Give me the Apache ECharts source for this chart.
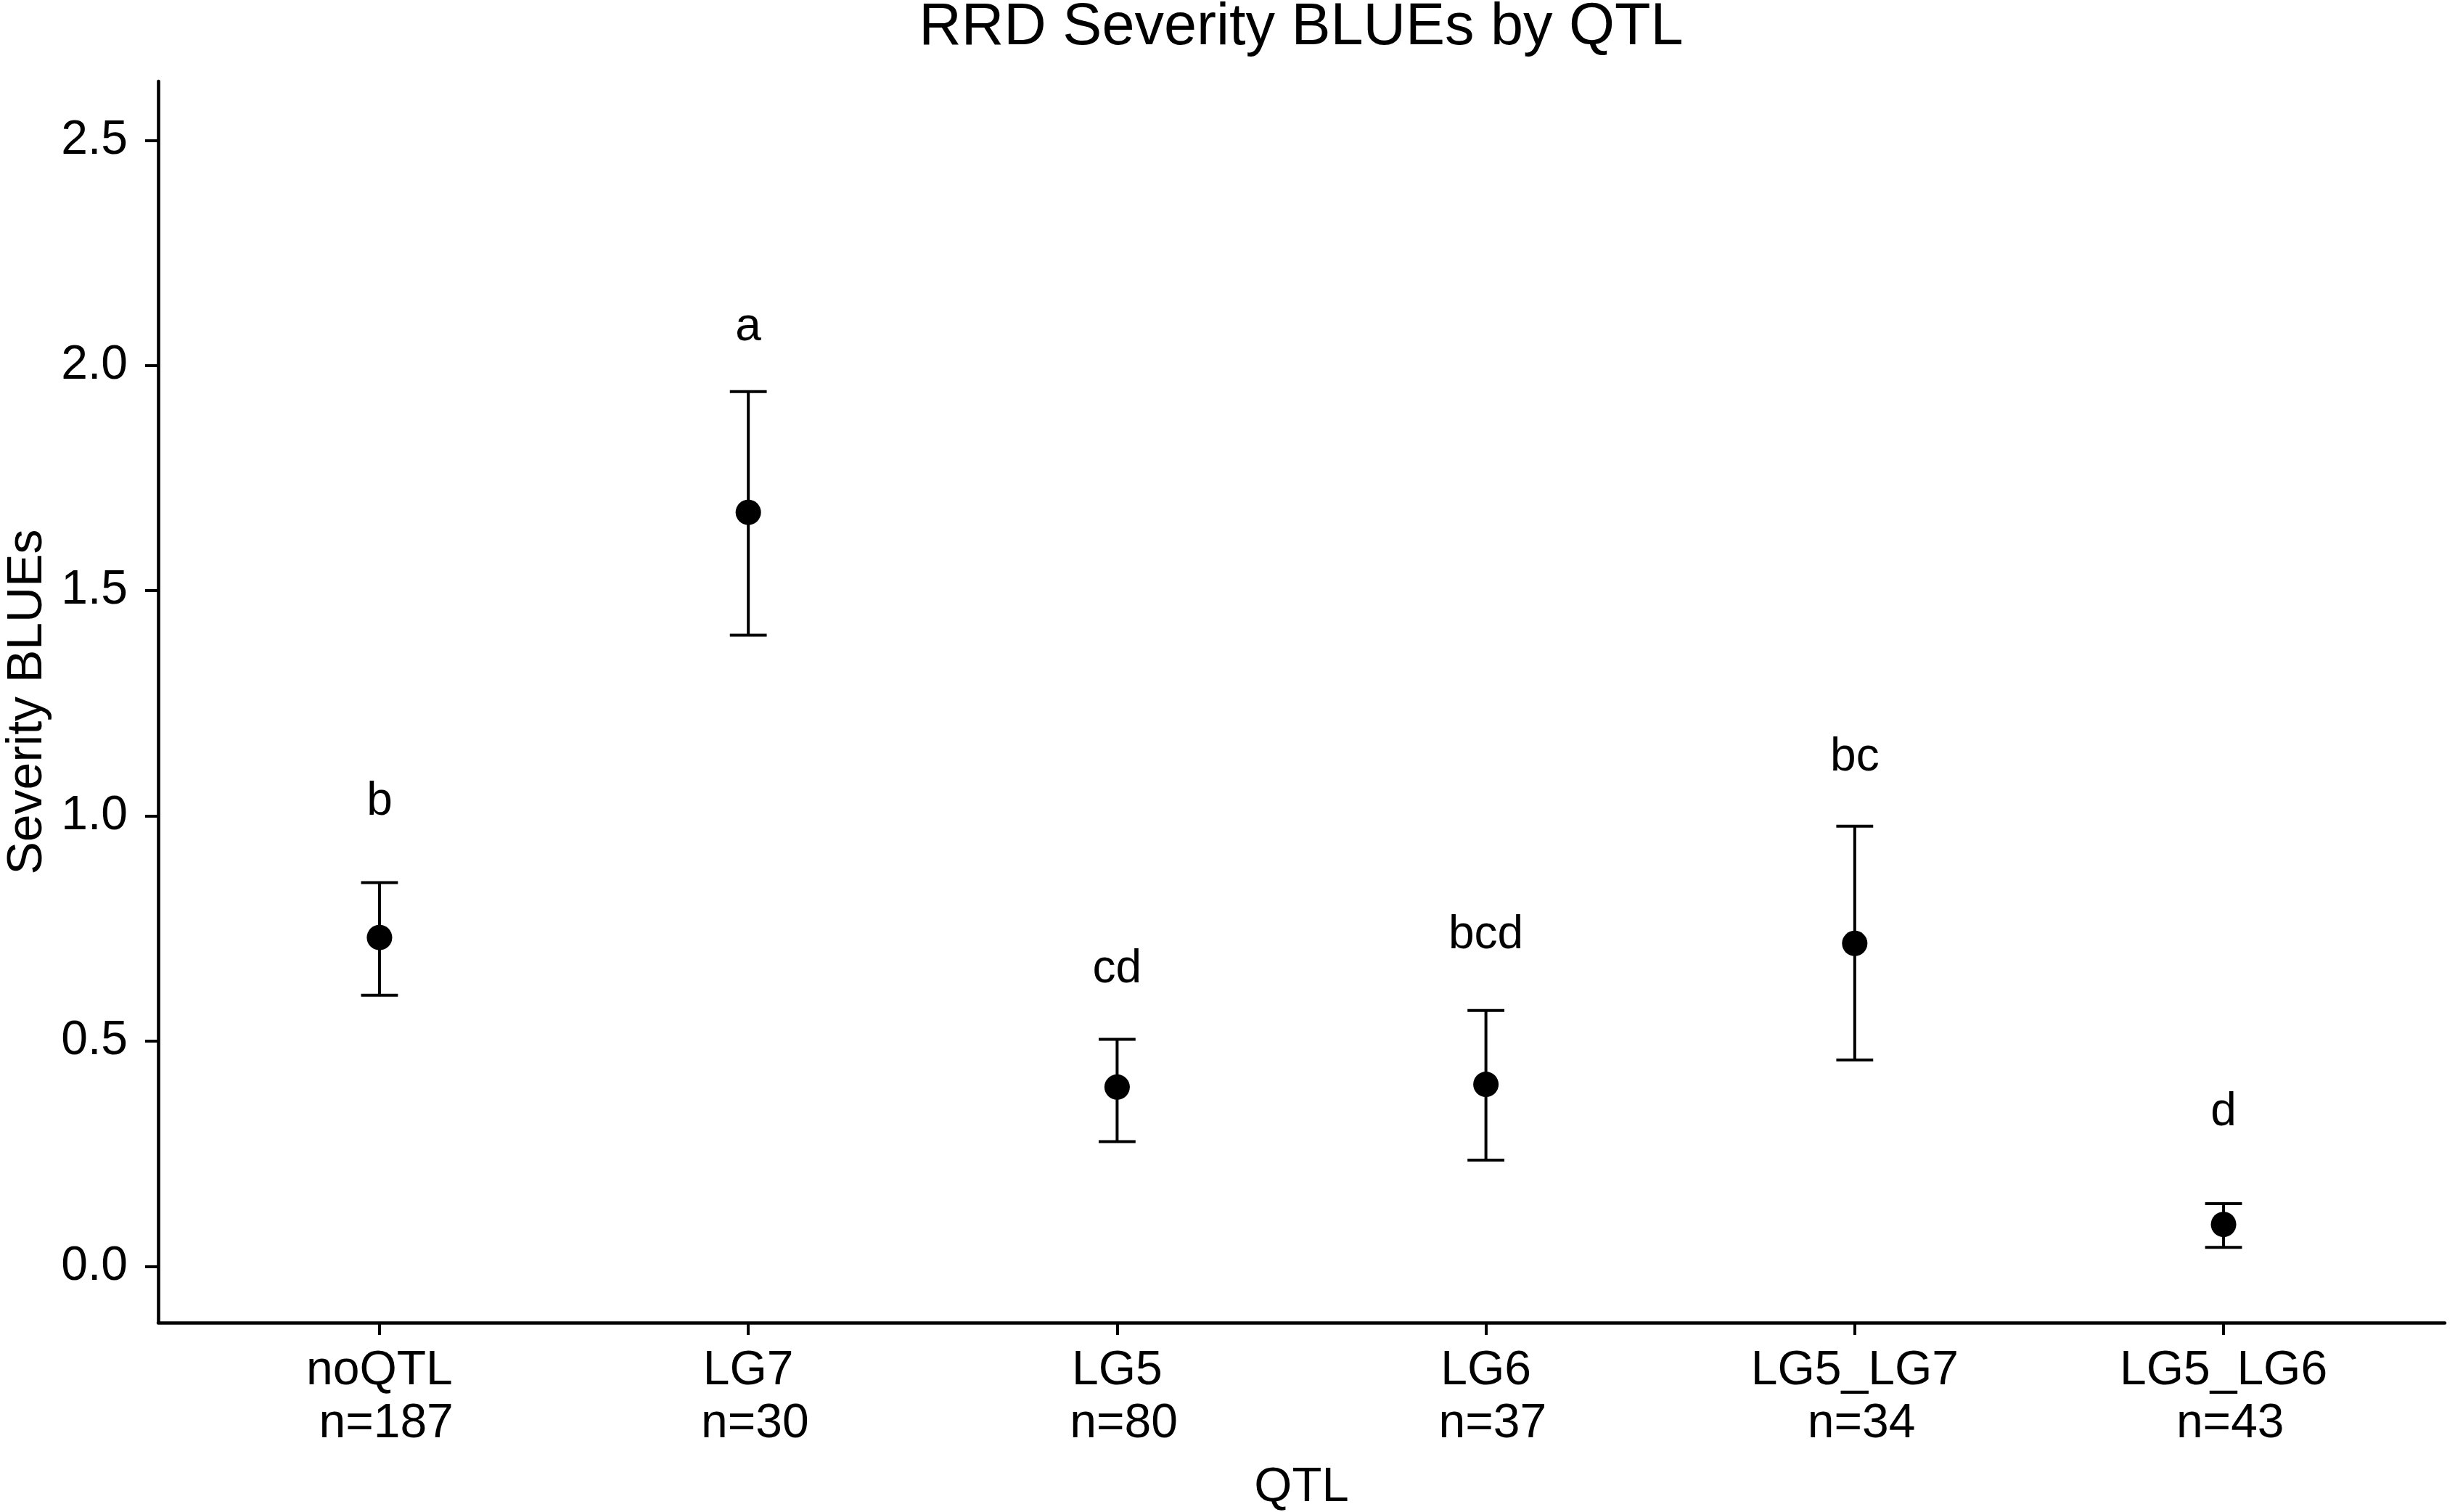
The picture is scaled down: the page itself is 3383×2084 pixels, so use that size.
<!DOCTYPE html>
<html>
<head>
<meta charset="utf-8">
<script src="https://cdn.jsdelivr.net/npm/echarts@6/dist/echarts.min.js"></script>
<style>
  html, body { margin: 0; padding: 0; background: #fff; }
  #chart { width: 3383px; height: 2084px; }
</style>
</head>
<body>
<div id="chart"></div>
<script>
// values
const qtlGroups = ['noQTL', 'LG7', 'LG5', 'LG6', 'LG5_LG7', 'LG5_LG6'];
const groupN = [187, 30, 80, 37, 34, 43];
const blueMean = [0.730, 1.674, 0.398, 0.404, 0.717, 0.093];
const blueLow = [0.602, 1.401, 0.277, 0.236, 0.458, 0.042];
const blueHigh = [0.852, 1.942, 0.504, 0.568, 0.977, 0.139];
const letters = ['b', 'a', 'cd', 'bcd', 'bc', 'd'];
const letterY = [1.031, 2.084, 0.659, 0.735, 1.130, 0.341];
const yTicks = [0, 0.5, 1.0, 1.5, 2.0, 2.5];

const FONT = 'Liberation Sans, Arial, sans-serif';
const capWidth = 0.1; // errorbar width in x units

const chart = echarts.init(document.getElementById('chart'), null, { renderer: 'canvas' });

const xIdx = qtlGroups.map((_, i) => i);

chart.setOption({
  animation: false,
  backgroundColor: '#fff',
  title: {
    text: 'RRD Severity BLUEs by QTL',
    left: 1793,
    top: -2,
    padding: 0,
    textAlign: 'center',
    textStyle: { fontFamily: FONT, fontSize: 81, fontWeight: 'normal', color: '#000', lineHeight: 81 }
  },
  grid: { left: 218, top: 112, right: 14, bottom: 261, containLabel: false, outerBoundsMode: 'none' },
  xAxis: {
    type: 'value',
    min: -0.6,
    max: 5.6,
    name: 'QTL',
    nameLocation: 'middle',
    nameGap: 194,
    nameTextStyle: { fontFamily: FONT, fontSize: 67, color: '#000' },
    splitLine: { show: false },
    axisLine: { show: true, onZero: false, lineStyle: { color: '#000', width: 4.6 } },
    axisTick: { show: true, length: 17, customValues: xIdx, lineStyle: { color: '#000', width: 4 } },
    axisLabel: {
      customValues: xIdx,
      margin: 30,
      fontFamily: FONT,
      fontSize: 66,
      lineHeight: 73,
      color: '#000',
      formatter: v => qtlGroups[Math.round(v)] + '\n n=' + groupN[Math.round(v)]
    }
  },
  yAxis: {
    type: 'value',
    min: -0.125,
    max: 2.631,
    name: 'Severity BLUEs',
    nameLocation: 'middle',
    nameGap: 146,
    nameTextStyle: { fontFamily: FONT, fontSize: 68, color: '#000' },
    splitLine: { show: false },
    axisLine: { show: true, onZero: false, lineStyle: { color: '#000', width: 4.6 } },
    axisTick: { show: true, length: 18, customValues: yTicks, lineStyle: { color: '#000', width: 4 } },
    axisLabel: {
      customValues: yTicks,
      margin: 42,
      fontFamily: FONT,
      fontSize: 66,
      color: '#000',
      formatter: v => v.toFixed(1)
    }
  },
  series: [
    {
      type: 'custom',
      name: 'errorbar',
      data: xIdx.map(i => [i, blueLow[i], blueHigh[i]]),
      encode: { x: 0, y: [1, 2] },
      renderItem: (params, api) => {
        const x = api.value(0);
        const top = api.coord([x, api.value(2)]);
        const bot = api.coord([x, api.value(1)]);
        const half = api.size([capWidth, 0])[0] / 2;
        const style = { stroke: '#000', lineWidth: 4, fill: null };
        return {
          type: 'group',
          children: [
            { type: 'line', shape: { x1: top[0], y1: top[1], x2: bot[0], y2: bot[1] }, style },
            { type: 'line', shape: { x1: top[0] - half, y1: top[1], x2: top[0] + half, y2: top[1] }, style },
            { type: 'line', shape: { x1: bot[0] - half, y1: bot[1], x2: bot[0] + half, y2: bot[1] }, style }
          ]
        };
      },
      z: 2
    },
    {
      type: 'scatter',
      name: 'mean',
      data: xIdx.map(i => [i, blueMean[i]]),
      symbol: 'circle',
      symbolSize: 35,
      itemStyle: { color: '#000', opacity: 1 },
      z: 3
    },
    {
      type: 'custom',
      name: 'letters',
      data: xIdx.map(i => [i, letterY[i]]),
      renderItem: (params, api) => {
        const p = api.coord([api.value(0), api.value(1)]);
        return {
          type: 'text',
          style: {
            text: letters[params.dataIndex],
            x: p[0],
            y: p[1],
            align: 'center',
            verticalAlign: 'middle',
            fontFamily: FONT,
            fontSize: 64,
            fill: '#000'
          }
        };
      },
      z: 4
    }
  ]
});
</script>
</body>
</html>
